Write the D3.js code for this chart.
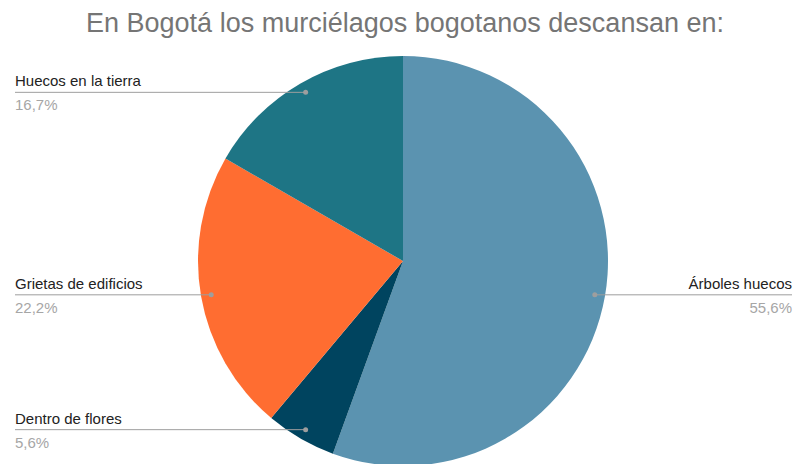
<!DOCTYPE html>
<html lang="es">
<head>
<meta charset="utf-8">
<style>
  body { margin: 0; background: #fff; }
  svg { display: block; font-family: "Liberation Sans", Arial, sans-serif; }
</style>
</head>
<body>
<svg width="795" height="464"></svg>
<script src="https://cdn.jsdelivr.net/npm/d3@7"></script>
<script>
// datos
var categories = ["Árboles huecos", "Dentro de flores", "Grietas de edificios", "Huecos en la tierra"];
var values = [10, 1, 4, 3];
var colors = ["#5b93b0", "#00445f", "#ff6d31", "#1e7585"];

var svg = d3.select("svg"),
    width = +svg.attr("width"),
    height = +svg.attr("height");

var cx = 403, cy = 261, r = 205;

svg.append("text")
    .attr("x", 405)
    .attr("y", 32)
    .attr("text-anchor", "middle")
    .attr("font-size", 27)
    .attr("fill", "#757575")
    .text("En Bogotá los murciélagos bogotanos descansan en:");

var total = d3.sum(values);
var pie = d3.pie().sort(null).value(function (d) { return d; });
var arcs = pie(values);
var arc = d3.arc().innerRadius(0).outerRadius(r);

var g = svg.append("g").attr("transform", "translate(" + cx + "," + cy + ")");

g.selectAll("path")
    .data(arcs)
    .enter()
    .append("path")
    .attr("d", arc)
    .attr("fill", function (d, i) { return colors[i]; });

var fmt = function (v) { return (v / total * 100).toFixed(1).replace(".", ",") + "%"; };

arcs.forEach(function (d, i) {
    var a = (d.startAngle + d.endAngle) / 2;
    var px = cx + Math.sin(a) * r * 0.95,
        py = cy - Math.cos(a) * r * 0.95;
    var right = px > cx;
    var xEnd = right ? width - 3 : 15;

    svg.append("line")
        .attr("x1", xEnd).attr("x2", px)
        .attr("y1", py).attr("y2", py)
        .attr("stroke", "#9e9e9e")
        .attr("stroke-width", 1);

    svg.append("circle")
        .attr("cx", px).attr("cy", py)
        .attr("r", 2.5)
        .attr("fill", "#9e9e9e");

    svg.append("text")
        .attr("x", xEnd)
        .attr("y", py - 6)
        .attr("text-anchor", right ? "end" : "start")
        .attr("font-size", 15)
        .attr("fill", "#222")
        .text(categories[i]);

    svg.append("text")
        .attr("x", xEnd)
        .attr("y", py + 18)
        .attr("text-anchor", right ? "end" : "start")
        .attr("font-size", 15)
        .attr("fill", "#a6a6a6")
        .text(fmt(values[i]));
});
</script>
</body>
</html>
